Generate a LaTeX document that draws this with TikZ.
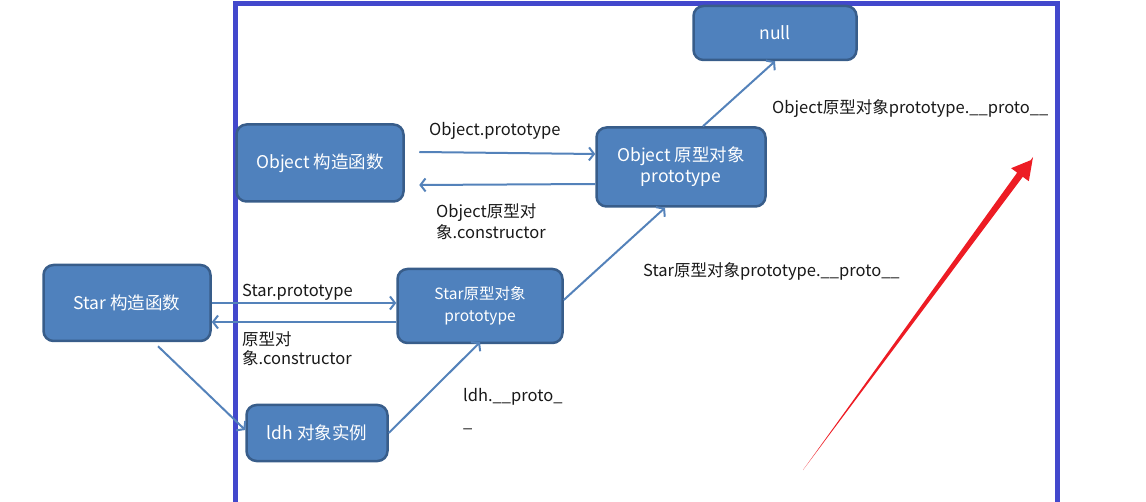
\documentclass[tikz,border=0pt]{standalone}
\usepackage{fontspec}
\setmainfont{Noto Sans CJK SC}
\usetikzlibrary{calc,arrows.meta}
\definecolor{boxblue}{RGB}{79,129,189}
\definecolor{boxedge}{RGB}{56,93,138}
\definecolor{linkblue}{RGB}{84,130,186}
\definecolor{framblue}{RGB}{66,72,204}
\definecolor{redarrow}{RGB}{237,28,36}
\tikzset{
  box/.style={draw=boxedge, line width=2.5pt, fill=boxblue, rounded corners=10pt,
    text=white, align=center, font=\fontsize{17.5}{21}\selectfont},
  link/.style={draw=linkblue, line width=2pt, -{Straight Barb[length=5pt,width=13pt]}},
  lbl/.style={anchor=west, align=left, text=black!90, inner sep=0pt,
    font=\fontsize{16.5}{21}\selectfont}
}
\begin{document}
\begin{tikzpicture}[x=1pt,y=1pt]
\useasboundingbox (0,0) rectangle (1146,501);
\clip (0,0) rectangle (1146,501);

% frame
\draw[framblue, line width=5pt] (235,-20) -- (235,497) -- (1057,497) -- (1057,-20);

% nodes
\node[box, minimum width=163, minimum height=54] (null) at (775,468) {null};
\node[box, minimum width=167, minimum height=77] (octor) at (320,338) {Object 构造函数};
\node[box, minimum width=169, minimum height=79] (oproto) at (681,334) {Object 原型对象\\prototype};
\node[box, minimum width=167, minimum height=76] (sctor) at (127,198) {Star 构造函数};
\node[box, minimum width=165, minimum height=74, font=\fontsize{15.5}{22}\selectfont] (sproto) at (480,195) {Star原型对象\\prototype};
\node[box, minimum width=141, minimum height=56] (ldh) at (317,68) {ldh 对象实例};

% connectors
\draw[link] ([shift={(14.5,11)}]octor.east) -- ([yshift=13]oproto.west);
\draw[link] ([yshift=-17]oproto.west) -- ([shift={(14.5,-22)}]octor.east);
\draw[link] (sctor.east) -- ([yshift=3]sproto.west);
\draw[link] ([yshift=-16]sproto.west) -- ([yshift=-19]sctor.east);
\draw[link] ([shift={(31,-4)}]sctor.south) -- ([yshift=3]ldh.west);
\draw[link] (ldh.east) -- ([yshift=2]sproto.south);
\draw[link] ([yshift=6]sproto.east) -- ([xshift=-16]oproto.south);
\draw[link] ([xshift=22]oproto.north) -- (null.south);

% labels
\node[lbl] (l1) at (429,370) {Object.prototype};
\node[lbl] (l2) at (436,279) {Object原型对\\象.constructor};
\node[lbl] (l3) at (242,209) {Star.prototype};
\node[lbl, font=\fontsize{16.5}{19}\selectfont] (l4) at (242,152) {原型对\\象.constructor};
\node[lbl] (l5) at (772,392) {Object原型对象prototype.\_\_proto\_\_};
\node[lbl] (l6) at (643,230) {Star原型对象prototype.\_\_proto\_\_};
\node[lbl, font=\fontsize{16.5}{26}\selectfont] (l7) at (463,92) {ldh.\_\_proto\_\\\_};

% red arrow
\coordinate (tail) at (803,31);
\coordinate (tip) at (1033,344);
\coordinate (base) at ($(tip)!22pt!(tail)$);
\fill[redarrow] (tail) -- ($(base)!3.5pt!90:(tip)$) -- ($(base)!11pt!90:(tip)$)
  -- ($(tip)!4pt!(tail)$) -- (tip) -- ($(base)!11pt!-90:(tip)$)
  -- ($(base)!3.5pt!-90:(tip)$) -- cycle;

\end{tikzpicture}
\end{document}
